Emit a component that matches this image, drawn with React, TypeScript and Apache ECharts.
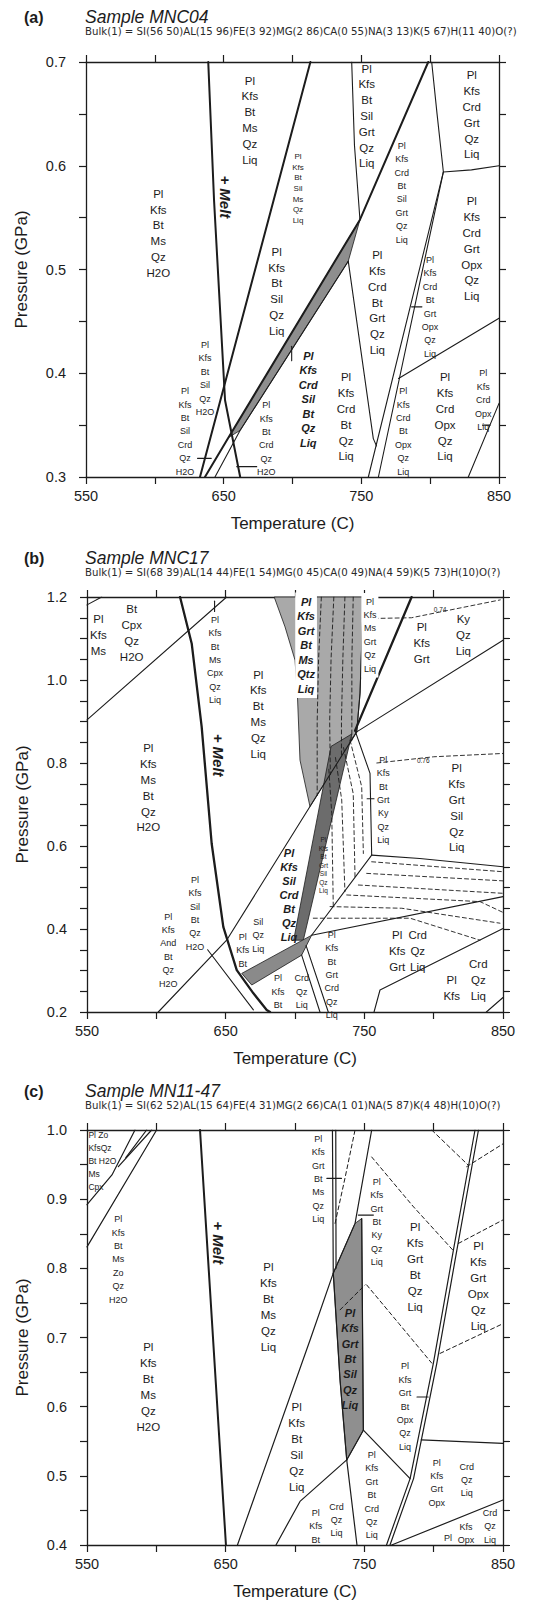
import React, { useEffect, useRef } from "react";
import * as echarts from "echarts";

type Pt = [number, number];
type Lab = [number, number, string];

const FONT = "'Liberation Sans', Arial, Helvetica, sans-serif";
const INK = "#1c1c1c";

// ---------- panel (a) : Sample MNC04 ----------
const bulkA = "Bulk(1) = SI(56 50)AL(15 96)FE(3 92)MG(2 86)CA(0 55)NA(3 13)K(5 67)H(11 40)O(?)";
const thickA: Pt[][] = [
  [[638.8, 0.7], [643, 0.567], [651, 0.374], [662, 0.3]],
  [[632.8, 0.3], [713, 0.7]],
  [[798.6, 0.7], [749, 0.548], [653.5, 0.338], [636.4, 0.3]],
];
const thinA: Pt[][] = [
  [[740.5, 0.508], [662, 0.345], [643.7, 0.3]],
  [[743, 0.7], [745, 0.62], [749, 0.548]],
  [[740.5, 0.508], [758.7, 0.337], [761, 0.33]],
  [[801.1, 0.7], [805, 0.65], [809.6, 0.594], [755.1, 0.3]],
  [[809.6, 0.594], [762.4, 0.3]],
  [[809.6, 0.594], [830, 0.596], [850, 0.6]],
  [[777, 0.395], [850, 0.453]],
  [[827.7, 0.3], [850, 0.371]],
  [[631, 0.318], [641, 0.318]],
  [[659.5, 0.31], [674, 0.31]],
  [[786.5, 0.464], [794, 0.464]],
  [[838, 0.35], [843.5, 0.35]],
  [[699.4, 0.412], [699.4, 0.426]],
];
const bandA: Pt[] = [[749, 0.548], [740.5, 0.508], [662, 0.345], [653.5, 0.338]];
const bigA: Lab[] = [
  [602.5, 0.535, "Pl\nKfs\nBt\nMs\nQz\nH2O"],
  [669, 0.644, "Pl\nKfs\nBt\nMs\nQz\nLiq"],
  [688.5, 0.479, "Pl\nKfs\nBt\nSil\nQz\nLiq"],
  [753.9, 0.648, "Pl\nKfs\nBt\nSil\nGrt\nQz\nLiq"],
  [830.2, 0.649, "Pl\nKfs\nCrd\nGrt\nQz\nLiq"],
  [830.2, 0.52, "Pl\nKfs\nCrd\nGrt\nOpx\nQz\nLiq"],
  [761.6, 0.468, "Pl\nKfs\nCrd\nBt\nGrt\nQz\nLiq"],
  [738.9, 0.358, "Pl\nKfs\nCrd\nBt\nQz\nLiq"],
  [810.8, 0.358, "Pl\nKfs\nCrd\nOpx\nQz\nLiq"],
];
const smallA: Lab[] = [
  [636.4, 0.395, "Pl\nKfs\nBt\nSil\nQz\nH2O"],
  [622, 0.344, "Pl\nKfs\nBt\nSil\nCrd\nQz\nH2O"],
  [681, 0.337, "Pl\nKfs\nBt\nCrd\nQz\nH2O"],
  [779.3, 0.574, "Pl\nKfs\nCrd\nBt\nSil\nGrt\nQz\nLiq"],
  [799.9, 0.464, "Pl\nKfs\nCrd\nBt\nGrt\nOpx\nQz\nLiq"],
  [780.5, 0.344, "Pl\nKfs\nCrd\nBt\nOpx\nQz\nLiq"],
  [838.6, 0.374, "Pl\nKfs\nCrd\nOpx\nLiq"],
];
const tinyA: Lab[] = [[704, 0.578, "Pl\nKfs\nBt\nSil\nMs\nQz\nLiq"]];
const boldA: Lab[] = [[711.5, 0.375, "Pl\nKfs\nCrd\nSil\nBt\nQz\nLiq"]];
const meltA: Lab[] = [[651, 0.57, "+ Melt"]];

// ---------- panel (b) : Sample MNC17 ----------
const bulkB = "Bulk(1) = SI(68 39)AL(14 44)FE(1 54)MG(0 45)CA(0 49)NA(4 59)K(5 73)H(10)O(?)";
const thickB: Pt[][] = [
  [[617.1, 1.2], [625.5, 1.088], [632.7, 0.887], [639.9, 0.606], [648.3, 0.405], [658, 0.301], [670, 0.245], [679.6, 0.205], [682, 0.2]],
  [[784.1, 1.2], [743.3, 0.878]],
];
const thinB: Pt[][] = [
  [[550, 0.904], [650.7, 1.2]],
  [[550, 1.181], [560.6, 1.2]],
  [[601.4, 0.2], [650.7, 0.373], [710.8, 0.695], [744.5, 0.875]],
  [[744.5, 0.875], [850, 1.096]],
  [[749.3, 1.2], [746.9, 0.968], [744.5, 0.875]],
  [[743.3, 0.878], [754.1, 0.775], [755.3, 0.578]],
  [[755.3, 0.578], [790, 0.57], [850, 0.55]],
  [[755.3, 0.578], [712, 0.385]],
  [[712, 0.385], [850, 0.478]],
  [[757, 0.2], [761.3, 0.253], [850, 0.401]],
  [[838, 0.2], [850, 0.235]],
  [[637, 0.35], [670, 0.205]],
  [[704.8, 0.337], [718, 0.2]],
  [[708, 0.36], [724, 0.2]],
  [[642, 1.165], [642, 1.19]],
  [[752, 0.714], [757, 0.714]],
];
const dashedB: Pt[][] = [
  [[719, 1.2], [717, 1.05], [716, 0.9], [716, 0.722]],
  [[728, 1.2], [726, 1.05], [725, 0.9], [725.5, 0.772]],
  [[736, 1.2], [734.5, 1.05], [733.5, 0.9], [733.5, 0.813]],
  [[742, 1.2], [741, 1.05], [741, 0.855]],
  [[739.7, 0.855], [748.1, 0.743], [749.3, 0.582]],
  [[735, 0.837], [742, 0.726], [743.3, 0.524]],
  [[729.2, 0.813], [733.7, 0.711], [736, 0.49]],
  [[724.4, 0.785], [726.5, 0.679], [727.6, 0.455]],
  [[755.3, 0.562], [850, 0.538]],
  [[751.7, 0.534], [850, 0.516]],
  [[745.7, 0.506], [850, 0.486]],
  [[737.3, 0.482], [833.4, 0.466], [850, 0.44]],
  [[725.3, 0.454], [777, 0.45], [847.8, 0.414]],
  [[713.2, 0.426], [783, 0.426], [833.4, 0.373]],
  [[752, 1.148], [784, 1.15], [848, 1.193]],
  [[759, 0.8], [800, 0.815], [850, 0.823]],
];
const grayB: Pt[] = [[685, 1.2], [692.8, 1.128], [700, 1.048], [701.7, 0.968], [703.6, 0.807], [710.8, 0.695], [744.5, 0.875], [746.9, 0.968], [749.3, 1.2]];
const pathB: Pt[] = [[726, 0.84], [741, 0.87], [706, 0.373], [699, 0.373]];
const bandB: Pt[] = [[712, 0.385], [661.6, 0.293], [668.8, 0.265], [704.8, 0.337]];
const bigB: Lab[] = [
  [558.2, 1.108, "Pl\nKfs\nMs"],
  [582.2, 1.113, "Bt\nCpx\nQz\nH2O"],
  [594.2, 0.74, "Pl\nKfs\nMs\nBt\nQz\nH2O"],
  [673.5, 0.918, "Pl\nKfs\nBt\nMs\nQz\nLiq"],
  [791.4, 1.089, "Pl\nKfs\nGrt"],
  [821.4, 1.108, "Ky\nQz\nLiq"],
  [816.6, 0.692, "Pl\nKfs\nGrt\nSil\nQz\nLiq"],
  [773.7, 0.347, "Pl\nKfs\nGrt"],
  [788.5, 0.347, "Crd\nQz\nLiq"],
  [813, 0.258, "Pl\nKfs"],
  [832.2, 0.277, "Crd\nQz\nLiq"],
];
const smallB: Lab[] = [
  [642.3, 1.048, "Pl\nKfs\nBt\nMs\nCpx\nQz\nLiq"],
  [627.9, 0.438, "Pl\nKfs\nSil\nBt\nQz\nH2O"],
  [608.6, 0.349, "Pl\nKfs\nAnd\nBt\nQz\nH2O"],
  [673.5, 0.385, "Sil\nQz\nLiq"],
  [662.3, 0.349, "Pl\nKfs\nBt"],
  [687.7, 0.249, "Pl\nKfs\nBt"],
  [704.8, 0.249, "Crd\nQz\nLiq"],
  [763.7, 0.711, "Pl\nKfs\nBt\nGrt\nKy\nQz\nLiq"],
  [726.5, 0.289, "Pl\nKfs\nBt\nGrt\nCrd\nQz\nLiq"],
];
const boxB: Lab[] = [[754, 1.108, "Pl\nKfs\nMs\nGrt\nQz\nLiq"]];
const tinyB: Lab[] = [
  [720.5, 0.554, "Pl\nKfs\nBt\nGrt\nSil\nQz\nLiq"],
  [804.6, 1.169, "0.74"],
  [792.5, 0.807, "0.76"],
];
const boldB: Lab[] = [[695.7, 0.482, "Pl\nKfs\nSil\nCrd\nBt\nQz\nLiq"]];
const boldBoxB: Lab[] = [[708, 1.084, "Pl\nKfs\nGrt\nBt\nMs\nQtz\nLiq"]];
const meltB: Lab[] = [[644.7, 0.819, "+ Melt"]];

// ---------- panel (c) : Sample MN11-47 ----------
const bulkC = "Bulk(1) = SI(62 52)AL(15 64)FE(4 31)MG(2 66)CA(1 01)NA(5 87)K(4 48)H(10)O(?)";
const thickC: Pt[][] = [[[631.5, 1.0], [650.2, 0.4]]];
const thinC: Pt[][] = [
  [[658.5, 0.4], [710.8, 0.696], [727.6, 0.793], [743.3, 0.865], [755.3, 1.0]],
  [[727, 1.0], [727.6, 0.793]],
  [[729.4, 1.0], [729.6, 0.8]],
  [[727.6, 0.793], [732.5, 0.638], [737.3, 0.523]],
  [[748.1, 0.872], [749.3, 0.566]],
  [[749.3, 0.566], [737.3, 0.523]],
  [[737.3, 0.523], [744.7, 0.4]],
  [[737.3, 0.523], [703.6, 0.463], [686.3, 0.4]],
  [[749.3, 0.566], [783, 0.496]],
  [[829.8, 1.0], [814.2, 0.826], [799.8, 0.663], [783, 0.496], [766, 0.4]],
  [[832.3, 1.0], [816.7, 0.826], [802.3, 0.663], [785.5, 0.496], [768.5, 0.4]],
  [[791, 0.552], [850, 0.547]],
  [[769.7, 0.4], [850, 0.465]],
  [[550, 0.892], [568, 0.935], [584.6, 1.0]],
  [[550, 0.831], [600.2, 1.0]],
  [[572.6, 0.947], [596.6, 1.0]],
  [[578, 0.96], [593, 1.0]],
  [[723, 0.93], [733.5, 0.93]],
  [[745.7, 0.877], [756.5, 0.877]],
  [[788, 0.614], [796, 0.614]],
];
const dashedC: Pt[][] = [
  [[728.9, 0.865], [736, 0.93], [743.3, 1.0]],
  [[755.3, 0.961], [785, 0.89], [814, 0.826]],
  [[817.8, 0.836], [850, 0.87]],
  [[798.6, 1.0], [825, 0.949]],
  [[823.8, 0.947], [850, 0.98]],
  [[751.7, 0.776], [775, 0.72], [798.6, 0.663]],
  [[804.6, 0.677], [850, 0.72]],
  [[732.5, 0.74], [750.5, 0.776]],
];
const grayC: Pt[] = [[727.6, 0.793], [743.3, 0.865], [748.1, 0.872], [749.3, 0.566], [737.3, 0.523], [732.5, 0.638]];
const bigC: Lab[] = [
  [594.2, 0.628, "Pl\nKfs\nBt\nMs\nQz\nH2O"],
  [680.8, 0.744, "Pl\nKfs\nBt\nMs\nQz\nLiq"],
  [701.2, 0.542, "Pl\nKfs\nBt\nSil\nQz\nLiq"],
  [786.6, 0.802, "Pl\nKfs\nGrt\nBt\nQz\nLiq"],
  [832.2, 0.775, "Pl\nKfs\nGrt\nOpx\nQz\nLiq"],
];
const smallC: Lab[] = [
  [572.6, 0.813, "Pl\nKfs\nBt\nMs\nZo\nQz\nH2O"],
  [716.8, 0.929, "Pl\nKfs\nGrt\nBt\nMs\nQz\nLiq"],
  [758.9, 0.867, "Pl\nKfs\nGrt\nBt\nKy\nQz\nLiq"],
  [779.3, 0.6, "Pl\nKfs\nGrt\nBt\nOpx\nQz\nLiq"],
  [755.3, 0.472, "Pl\nKfs\nGrt\nBt\nCrd\nQz\nLiq"],
  [802.2, 0.49, "Pl\nKfs\nGrt\nOpx"],
  [823.8, 0.494, "Crd\nQz\nLiq"],
  [714.9, 0.427, "Pl\nKfs\nBt"],
  [729.9, 0.436, "Crd\nQz\nLiq"],
  [840.6, 0.427, "Crd\nQz\nLiq"],
  [823.3, 0.417, "Kfs\nOpx"],
  [810.4, 0.41, "Pl"],
];
const leftC: Lab[] = [[551, 0.955, "Pl Zo\nKfsQz\nBt H2O\nMs\nCpx"]];
const boldC: Lab[] = [[739.7, 0.669, "Pl\nKfs\nGrt\nBt\nSil\nQz\nLiq"]];
const meltC: Lab[] = [[644.7, 0.837, "+ Melt"]];

const yRanges: [number, number, number][] = [
  [0.3, 0.7, 10],
  [0.2, 1.2, 20],
  [0.4, 1.0, 10],
];

interface TS {
  size: number;
  lh: number;
  weight?: string;
  italic?: boolean;
  bg?: string;
  align?: string;
  rotate?: number;
}

function lineSeries(list: Pt[][], g: number, width: number, dashed = false) {
  return list.map((pts) => ({
    type: "line",
    xAxisIndex: g * 2,
    yAxisIndex: g * 2,
    data: pts,
    symbol: "none",
    showSymbol: false,
    silent: true,
    z: 4,
    lineStyle: { color: INK, width, type: dashed ? [4, 3] : "solid", cap: "round", join: "round" },
  }));
}

function polySeries(pts: Pt[], g: number, fill: string) {
  return {
    type: "custom",
    xAxisIndex: g * 2,
    yAxisIndex: g * 2,
    silent: true,
    z: 2,
    data: [pts[0]],
    renderItem: (_p: any, api: any) => ({
      type: "polygon",
      shape: { points: pts.map((p) => api.coord(p)) },
      style: { fill, stroke: INK, lineWidth: 0.8 },
    }),
  };
}

function textSeries(list: Lab[], g: number, st: TS) {
  return {
    type: "custom",
    xAxisIndex: g * 2,
    yAxisIndex: g * 2,
    silent: true,
    z: 6,
    clip: false,
    data: list.map((l) => [l[0], l[1]]),
    renderItem: (params: any, api: any) => {
      const l = list[params.dataIndex];
      const c = api.coord([l[0], l[1]]);
      return {
        type: "text",
        x: c[0],
        y: c[1],
        rotation: st.rotate || 0,
        style: {
          text: l[2],
          fontSize: st.size,
          lineHeight: st.lh,
          fontFamily: FONT,
          fontWeight: st.weight || "normal",
          fontStyle: st.italic ? "italic" : "normal",
          fill: INK,
          align: st.align || "center",
          verticalAlign: "middle",
          backgroundColor: st.bg,
          padding: st.bg ? [2, 2] : 0,
        },
      };
    },
  };
}

const BIG: TS = { size: 11.5, lh: 15.8 };
const SMALL: TS = { size: 9, lh: 13.4 };
const TINY: TS = { size: 8, lh: 10.7 };
const BOLD: TS = { size: 11, lh: 14.5, weight: "bold", italic: true };
const MELT: TS = { size: 15, lh: 16, weight: "bold", italic: true, rotate: -Math.PI / 2 };

const grids = [
  { left: 86, top: 62, width: 413, height: 415 },
  { left: 87, top: 597, width: 416, height: 415 },
  { left: 87, top: 1130, width: 416, height: 415 },
];

function xAxis(g: number, top: boolean) {
  return {
    type: "value",
    gridIndex: g,
    position: top ? "top" : "bottom",
    min: 550,
    max: 850,
    interval: 50,
    axisLine: { show: true, onZero: false, lineStyle: { color: INK, width: 1.3 } },
    axisTick: { show: true, length: 7, lineStyle: { color: INK, width: 1.2 } },
    axisLabel: {
      show: !top,
      margin: 11,
      fontSize: 14.5,
      color: INK,
      fontFamily: FONT,
      formatter: (v: number) => ((Math.round(v) - 550) % 100 === 0 ? String(Math.round(v)) : ""),
    },
    splitLine: { show: false },
    name: top ? "" : "Temperature (C)",
    nameLocation: "middle",
    nameGap: 38,
    nameTextStyle: { fontSize: 17, color: INK, fontFamily: FONT },
  };
}

function yAxis(g: number, right: boolean) {
  const [min, max, step] = yRanges[g];
  return {
    type: "value",
    gridIndex: g,
    position: right ? "right" : "left",
    min,
    max,
    interval: 0.05,
    axisLine: { show: true, onZero: false, lineStyle: { color: INK, width: 1.3 } },
    axisTick: { show: true, length: 7, lineStyle: { color: INK, width: 1.2 } },
    axisLabel: {
      show: !right,
      margin: 20,
      fontSize: 14.5,
      color: INK,
      fontFamily: FONT,
      formatter: (v: number) => {
        const k = Math.round(v * 100);
        return k % step === 0 ? (k / 100).toFixed(1) : "";
      },
    },
    splitLine: { show: false },
    name: right ? "" : "Pressure (GPa)",
    nameLocation: "middle",
    nameGap: 56,
    nameRotate: 90,
    nameTextStyle: { fontSize: 17, color: INK, fontFamily: FONT },
  };
}

function titles(label: string, sample: string, bulk: string, yTitle: number, yBulk: number, xLeft: number) {
  return [
    { type: "text", x: 24, y: yTitle, style: { text: label, fontSize: 16, fontWeight: "bold", fontFamily: FONT, fill: INK, verticalAlign: "middle" } },
    { type: "text", x: xLeft, y: yTitle, style: { text: sample, fontSize: 17.5, fontStyle: "italic", fontFamily: FONT, fill: INK, verticalAlign: "middle" } },
    { type: "text", x: xLeft, y: yBulk, style: { text: bulk, fontSize: 10.2, fontFamily: "'DejaVu Sans', sans-serif", fill: "#2a2a2a", verticalAlign: "middle" } },
  ];
}

export default function App() {
  const ref = useRef<HTMLDivElement>(null);
  useEffect(() => {
    document.body.style.margin = "0";
    if (!ref.current) return;
    const chart = echarts.init(ref.current, undefined, { renderer: "svg" });
    const series: any[] = [
      polySeries(bandA, 0, "#8e8e8e"),
      ...lineSeries(thickA, 0, 2),
      ...lineSeries(thinA, 0, 1.1),
      textSeries(bigA, 0, BIG),
      textSeries(smallA, 0, SMALL),
      textSeries(tinyA, 0, TINY),
      textSeries(boldA, 0, BOLD),
      textSeries(meltA, 0, MELT),

      polySeries(grayB, 1, "#a9a9a9"),
      polySeries(pathB, 1, "#6c6c6c"),
      polySeries(bandB, 1, "#8a8a8a"),
      ...lineSeries(thickB, 1, 2.3),
      ...lineSeries(thinB, 1, 1.1),
      ...lineSeries(dashedB, 1, 0.9, true),
      textSeries(bigB, 1, BIG),
      textSeries(smallB, 1, SMALL),
      textSeries(boxB, 1, { ...SMALL, bg: "#ffffff" }),
      textSeries(tinyB, 1, { size: 6.5, lh: 8.5 }),
      textSeries(boldB, 1, { ...BOLD, lh: 13.9 }),
      textSeries(boldBoxB, 1, { ...BOLD, lh: 14.5, bg: "#ffffff" }),
      textSeries(meltB, 1, MELT),

      polySeries(grayC, 2, "#8f8f8f"),
      ...lineSeries(thickC, 2, 2),
      ...lineSeries(thinC, 2, 1.2),
      ...lineSeries(dashedC, 2, 1, true),
      textSeries(bigC, 2, { size: 11.5, lh: 16 }),
      textSeries(smallC, 2, SMALL),
      textSeries(leftC, 2, { size: 8.5, lh: 13, align: "left" }),
      textSeries(boldC, 2, { ...BOLD, lh: 15.3 }),
      textSeries(meltC, 2, MELT),
    ];
    chart.setOption({
      animation: false,
      backgroundColor: "#ffffff",
      grid: grids,
      xAxis: [xAxis(0, false), xAxis(0, true), xAxis(1, false), xAxis(1, true), xAxis(2, false), xAxis(2, true)],
      yAxis: [yAxis(0, false), yAxis(0, true), yAxis(1, false), yAxis(1, true), yAxis(2, false), yAxis(2, true)],
      graphic: [
        ...titles("(a)", "Sample MNC04", bulkA, 17, 31, 85),
        ...titles("(b)", "Sample MNC17", bulkB, 558, 572, 85),
        ...titles("(c)", "Sample MN11-47", bulkC, 1091, 1105, 85),
      ],
      series,
    });
    return () => chart.dispose();
  }, []);
  return <div ref={ref} style={{ width: 541, height: 1603 }} />;
}
